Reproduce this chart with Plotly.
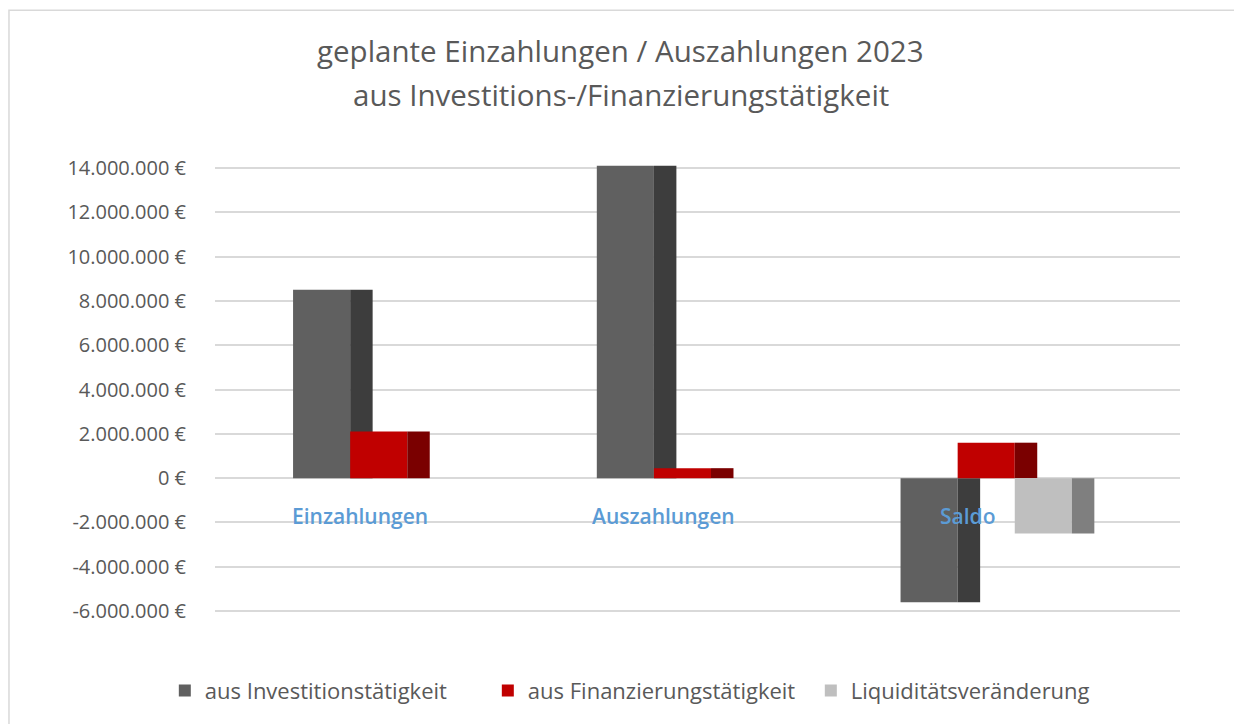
import plotly.graph_objects as go

categories = ["Einzahlungen", "Auszahlungen", "Saldo"]
investition = [8500000, 14100000, -5600000]
finanzierung = [2100000, 450000, 1600000]
liquiditaet = [None, None, -2500000]

series_names = ["aus Investitionstätigkeit", "aus Finanzierungstätigkeit", "Liquiditätsveränderung"]
front_colors = ["#606060", "#C00000", "#BFBFBF"]
side_colors = ["#3D3D3D", "#7A0000", "#7F7F7F"]

tick_vals = [-6000000, -4000000, -2000000, 0, 2000000, 4000000, 6000000,
             8000000, 10000000, 12000000, 14000000]
tick_text = ["-6.000.000 €", "-4.000.000 €", "-2.000.000 €", "0 €", "2.000.000 €",
             "4.000.000 €", "6.000.000 €", "8.000.000 €", "10.000.000 €",
             "12.000.000 €", "14.000.000 €"]

title_lines = ["geplante Einzahlungen / Auszahlungen 2023",
               "aus Investitions-/Finanzierungstätigkeit"]

FONT = "Open Sans"
TXT = "#595959"

fig = go.Figure()

front_w = 0.188
side_w = 0.074
offsets = [-0.28, -0.092, 0.096]
all_series = [investition, finanzierung, liquiditaet]

for i, vals in enumerate(all_series):
    fig.add_trace(go.Bar(
        x=categories, y=vals, name=series_names[i],
        marker=dict(color=front_colors[i], line=dict(width=0)),
        width=front_w, offset=offsets[i], hoverinfo="y+name",
    ))
    fig.add_trace(go.Bar(
        x=categories, y=vals, name=series_names[i] + " (Seite)",
        marker=dict(color=side_colors[i], line=dict(width=0)),
        width=side_w, offset=offsets[i] + front_w, showlegend=False,
        hoverinfo="skip",
    ))

for c in categories:
    fig.add_annotation(
        x=c, y=0, xref="x", yref="y", text=c, showarrow=False,
        yshift=-38, xshift=-18,
        font=dict(family=FONT, size=21, color="#5B9BD5", weight=600),
    )

fig.add_annotation(x=0.4207, y=1.21, xref="paper", yref="paper", text=title_lines[0],
                   showarrow=False, xanchor="center", yanchor="middle",
                   font=dict(family=FONT, size=29.5, color=TXT))
fig.add_annotation(x=0.4207, y=1.116, xref="paper", yref="paper", text=title_lines[1],
                   showarrow=False, xanchor="center", yanchor="middle",
                   font=dict(family=FONT, size=29.5, color=TXT))

fig.update_layout(
    width=1234, height=716,
    paper_bgcolor="white", plot_bgcolor="white",
    barmode="overlay",
    margin=dict(l=207, r=62, t=142, b=94),
    font=dict(family=FONT, color=TXT),
    legend=dict(
        orientation="h", x=-0.052, xanchor="left", y=-0.092, yanchor="top",
        font=dict(family=FONT, size=22, color=TXT),
        itemwidth=30, entrywidth=278, entrywidthmode="pixels",
    ),
    xaxis=dict(
        range=[-0.537, 2.64], showticklabels=False, showgrid=False,
        zeroline=False, showline=False, ticks="",
    ),
    yaxis=dict(
        range=[-6670000, 14805000], tickvals=tick_vals, ticktext=tick_text,
        showgrid=True, gridcolor="#D9D9D9", gridwidth=2,
        zeroline=True, zerolinecolor="#D9D9D9", zerolinewidth=2,
        showline=False, ticks="outside", ticklen=24, tickcolor="rgba(0,0,0,0)",
        tickfont=dict(family=FONT, size=20, color=TXT),
    ),
    shapes=[dict(type="rect", xref="paper", yref="paper",
                 x0=-0.2135, x1=1.0622, y0=-0.3, y1=1.2938,
                 line=dict(color="#D9D9D9", width=1.5), layer="below")],
)

fig.write_html("out.html")
